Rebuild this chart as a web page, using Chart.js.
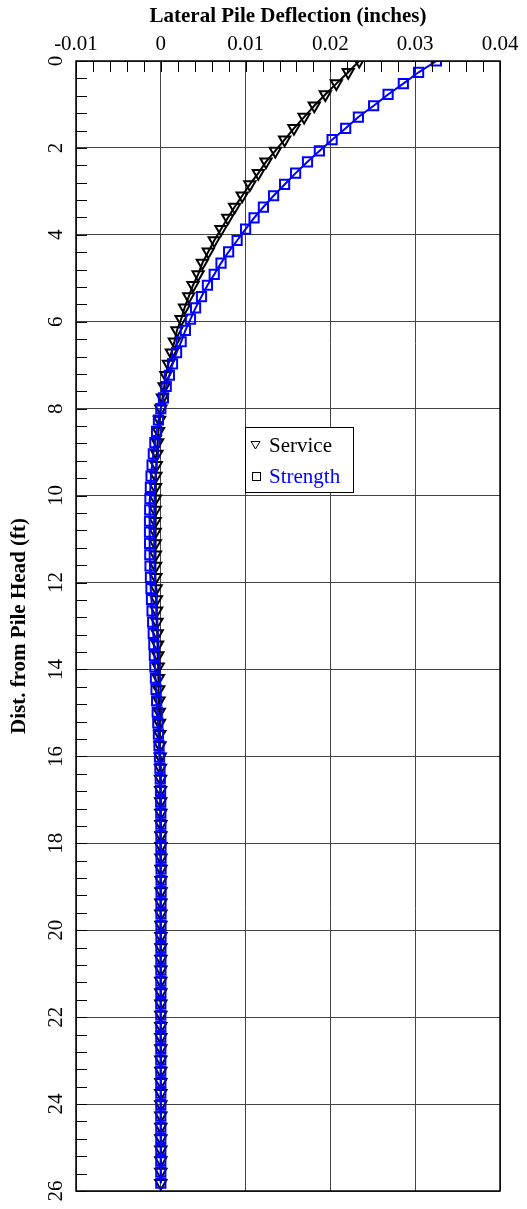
<!DOCTYPE html>
<html>
<head>
<meta charset="utf-8">
<script src="https://cdn.jsdelivr.net/npm/chart.js@4.4.1/dist/chart.umd.min.js"></script>
<style>
  html, body { margin: 0; padding: 0; background: #fff; }
  #wrap { width: 527px; height: 1209px; position: relative; }
</style>
</head>
<body>
<div id="wrap"><canvas id="pileChart"></canvas></div>
<script>
// depth stations along the pile (ft)
const depths = [
  0, 0.26, 0.52, 0.77, 1.03, 1.29, 1.55, 1.81, 2.07, 2.32,
  2.58, 2.84, 3.10, 3.36, 3.61, 3.87, 4.13, 4.39, 4.65, 4.91,
  5.16, 5.42, 5.68, 5.94, 6.20, 6.46, 6.71, 6.97, 7.23, 7.49,
  7.75, 8.00, 8.26, 8.52, 8.78, 9.04, 9.30, 9.55, 9.81, 10.07,
  10.33, 10.59, 10.84, 11.10, 11.36, 11.62, 11.88, 12.14, 12.39, 12.65,
  12.91, 13.17, 13.43, 13.68, 13.94, 14.20, 14.46, 14.72, 14.98, 15.23,
  15.49, 15.75, 16.01, 16.27, 16.52, 16.78, 17.04, 17.30, 17.56, 17.82,
  18.07, 18.33, 18.59, 18.85, 19.11, 19.37, 19.62, 19.88, 20.14, 20.40,
  20.66, 20.91, 21.17, 21.43, 21.69, 21.95, 22.21, 22.46, 22.72, 22.98,
  23.24, 23.50, 23.75, 24.01, 24.27, 24.53, 24.79, 25.05, 25.30, 25.56,
  25.82
];

// lateral deflection (inches)
const serviceDefl = [
  0.0234, 0.0221, 0.0207, 0.0194, 0.0181, 0.0169, 0.0157, 0.0146, 0.0135, 0.0124,
  0.0115, 0.0105, 0.0096, 0.0087, 0.0079, 0.0071, 0.0063, 0.0056, 0.0049, 0.0044,
  0.0038, 0.0033, 0.0028, 0.0024, 0.0019, 0.0016, 0.00125, 0.0009, 0.0006, 0.0004,
  0.0002, 0.0000, -0.00015, -0.00027, -0.00038, -0.00046, -0.00053, -0.00058, -0.00062, -0.00064,
  -0.00066, -0.00066, -0.00066, -0.00065, -0.00063, -0.00061, -0.00058, -0.00055, -0.00052, -0.00049,
  -0.00045, -0.00042, -0.00038, -0.00035, -0.00031, -0.00028, -0.00024, -0.00021, -0.00018, -0.00015,
  -0.00012, -0.0001, -0.00007, -0.00005, -0.00003, -0.00002, -0.00001, 0, 0.00001, 0.00001,
  0.00002, 0.00002, 0.00002, 0.00002, 0.00002, 0.00001, 0.00001, 0.00001, 0.00001, 0.00001,
  0.00001, 0.00001, 0, 0, 0, 0, 0, 0, 0, 0,
  0, 0, 0, 0, 0, 0, 0, 0, 0, 0,
  0
];

const strengthDefl = [
  0.0325, 0.0304, 0.0286, 0.0268, 0.0251, 0.0233, 0.0218, 0.0202, 0.0187, 0.0173,
  0.0159, 0.0146, 0.0133, 0.0121, 0.0110, 0.0100, 0.0090, 0.0080, 0.0071, 0.0063,
  0.0055, 0.0048, 0.0041, 0.0035, 0.0029, 0.0024, 0.00186, 0.00138, 0.00101, 0.00064,
  0.00031, 0.0, -0.00028, -0.0005, -0.0007, -0.00088, -0.00103, -0.00115, -0.00123, -0.00128,
  -0.00131, -0.00133, -0.00133, -0.00132, -0.0013, -0.00127, -0.00122, -0.00116, -0.0011, -0.00103,
  -0.00096, -0.00089, -0.00082, -0.00076, -0.0007, -0.00063, -0.00056, -0.00049, -0.00042, -0.00035,
  -0.00028, -0.00021, -0.00015, -0.0001, -0.00006, -0.00003, -0.00001, 0, 0.00001, 0.00002,
  0.00002, 0.00003, 0.00003, 0.00003, 0.00003, 0.00002, 0.00002, 0.00002, 0.00002, 0.00001,
  0.00001, 0.00001, 0.00001, 0.00001, 0, 0, 0, 0, 0, 0,
  0, 0, 0, 0, 0, 0, 0, 0, 0, 0,
  0
];

const seriesNames = ['Service', 'Strength'];
const xTicks = [-0.01, 0, 0.01, 0.02, 0.03, 0.04];
const yTicks = [0, 2, 4, 6, 8, 10, 12, 14, 16, 18, 20, 22, 24, 26];

const FONT = '"Liberation Serif", "Times New Roman", serif';

// inner minor ticks, full frame, rotated depth labels, legend
const framePlugin = {
  id: 'frame',
  afterDraw(chart) {
    const ctx = chart.ctx;
    const a = chart.chartArea;
    const xs = chart.scales.x, ys = chart.scales.y;
    ctx.save();
    ctx.strokeStyle = '#000';
    ctx.lineWidth = 1;
    ctx.beginPath();
    for (let k = 0; k <= 25; k++) {
      const v = xTicks[0] + k * 0.002;
      const px = Math.round(xs.getPixelForValue(v)) + 0.5;
      ctx.moveTo(px, a.top);
      ctx.lineTo(px, a.top + 11);
    }
    for (let k = 0; k <= 65; k++) {
      const py = Math.round(ys.getPixelForValue(k * 0.4)) + 0.5;
      ctx.moveTo(a.left, py);
      ctx.lineTo(a.left + 11, py);
    }
    ctx.stroke();
    ctx.lineWidth = 1.5;
    ctx.strokeRect(a.left, a.top, a.right - a.left, a.bottom - a.top);

    // depth tick labels, rotated
    ctx.fillStyle = '#000';
    ctx.font = '21px ' + FONT;
    ctx.textAlign = 'center';
    ctx.textBaseline = 'middle';
    yTicks.forEach(v => {
      ctx.save();
      ctx.translate(56, ys.getPixelForValue(v));
      ctx.rotate(-Math.PI / 2);
      ctx.fillText(String(v), 0, 0);
      ctx.restore();
    });

    // legend box
    const lx = 245, ly = 427, lw = 108, lh = 65;
    ctx.fillStyle = '#fff';
    ctx.fillRect(lx, ly, lw, lh);
    ctx.strokeStyle = '#000';
    ctx.lineWidth = 1;
    ctx.strokeRect(lx + 0.5, ly + 0.5, lw, lh);
    ctx.beginPath();
    ctx.moveTo(251, 441.5);
    ctx.lineTo(260, 441.5);
    ctx.lineTo(255.5, 449);
    ctx.closePath();
    ctx.stroke();
    ctx.strokeRect(252.5, 472.5, 8, 8);
    ctx.font = '21px ' + FONT;
    ctx.textAlign = 'left';
    ctx.textBaseline = 'alphabetic';
    ctx.fillStyle = '#000';
    ctx.fillText(seriesNames[0], 269, 452);
    ctx.fillStyle = '#0000ff';
    ctx.fillText(seriesNames[1], 269, 483);
    ctx.restore();
  }
};

new Chart(document.getElementById('pileChart'), {
  type: 'scatter',
  data: {
    datasets: [
      {
        label: seriesNames[0],
        data: depths.map((d, i) => ({ x: serviceDefl[i], y: d })),
        showLine: true,
        order: 1,
        borderColor: '#000',
        borderWidth: 2,
        pointStyle: 'triangle',
        rotation: 180,
        pointRadius: 6.5,
        pointBorderWidth: 2,
        pointBorderColor: '#000',
        pointBackgroundColor: 'rgba(0,0,0,0)',
        clip: 0
      },
      {
        label: seriesNames[1],
        data: depths.map((d, i) => ({ x: strengthDefl[i], y: d })),
        showLine: true,
        order: 0,
        borderColor: '#0000ff',
        borderWidth: 2,
        pointStyle: 'rect',
        pointRadius: 6.5,
        pointBorderWidth: 2,
        pointBorderColor: '#0000ff',
        pointBackgroundColor: 'rgba(0,0,0,0)',
        clip: 0
      }
    ]
  },
  options: {
    responsive: true,
    maintainAspectRatio: false,
    animation: false,
    events: [],
    layout: { padding: { left: 0, top: 0, right: 27, bottom: 18 } },
    plugins: { legend: { display: false }, tooltip: { enabled: false } },
    scales: {
      x: {
        type: 'linear',
        position: 'top',
        min: xTicks[0],
        max: xTicks[xTicks.length - 1],
        afterFit: s => { s.height = 61; },
        ticks: {
          stepSize: 0.01,
          padding: 4,
          color: '#000',
          font: { family: FONT, size: 21 }
        },
        grid: { color: '#444', lineWidth: 1, drawTicks: false },
        border: { display: false },
        title: {
          display: true,
          text: 'Lateral Pile Deflection (inches)',
          color: '#000',
          font: { family: FONT, size: 21, weight: 'bold', lineHeight: 1.2 },
          padding: { top: 4, bottom: 0 }
        }
      },
      y: {
        type: 'linear',
        reverse: true,
        min: yTicks[0],
        max: yTicks[yTicks.length - 1],
        afterFit: s => { s.width = 76; },
        ticks: { stepSize: 2, display: false },
        grid: { color: '#444', lineWidth: 1, drawTicks: false },
        border: { display: false },
        title: {
          display: true,
          text: 'Dist. from Pile Head (ft)',
          color: '#000',
          font: { family: FONT, size: 21, weight: 'bold', lineHeight: 1.2 },
          padding: { top: 7, bottom: 0 }
        }
      }
    }
  },
  plugins: [framePlugin]
});
</script>
</body>
</html>
